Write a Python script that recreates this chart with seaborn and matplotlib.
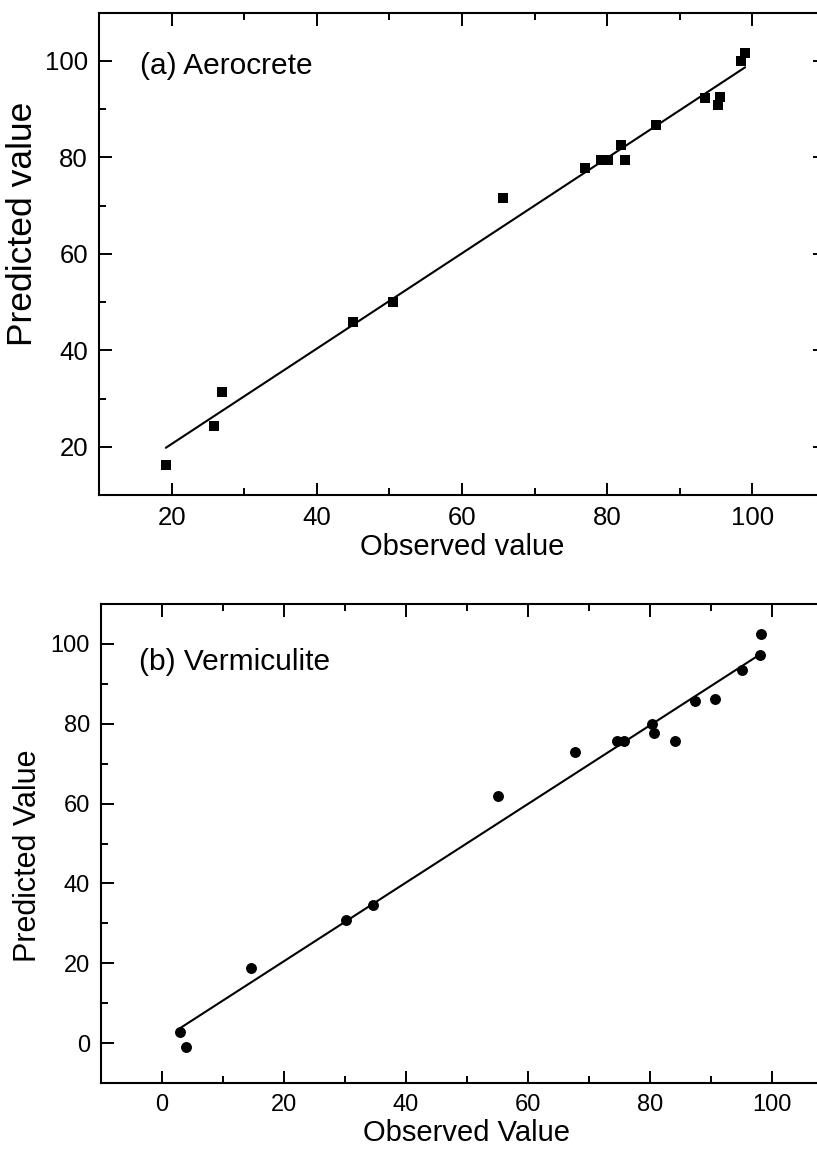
import numpy as np
import pandas as pd
import matplotlib
matplotlib.use("Agg")
import matplotlib.pyplot as plt
from matplotlib.ticker import MultipleLocator
import seaborn as sns

# Aerocrete: observed vs predicted
aero_observed = [19.2, 25.9, 27.0, 45.0, 50.5, 65.7, 77.0, 79.1, 80.1, 81.9,
                 82.5, 86.7, 93.5, 95.3, 95.5, 98.4, 99.0]
aero_predicted = [16.3, 24.3, 31.4, 45.9, 50.1, 71.6, 77.7, 79.4, 79.4, 82.6,
                  79.4, 86.8, 92.4, 90.9, 92.6, 99.9, 101.6]

# Vermiculite: observed vs predicted
verm_observed = [2.9, 4.0, 14.6, 30.1, 34.6, 55.1, 67.7, 74.6, 75.7, 80.4,
                 80.6, 84.1, 87.3, 90.6, 95.1, 98.0, 98.2]
verm_predicted = [2.9, -1.1, 18.9, 30.9, 34.5, 62.0, 73.0, 75.8, 75.8, 79.9,
                  77.8, 75.8, 85.8, 86.2, 93.4, 97.1, 102.6]

panel_titles = ["(a) Aerocrete", "(b) Vermiculite"]
x_labels = ["Observed value", "Observed Value"]
y_labels = ["Predicted value", "Predicted Value"]

aero = pd.DataFrame({"obs": aero_observed, "pred": aero_predicted})
verm = pd.DataFrame({"obs": verm_observed, "pred": verm_predicted})

sns.set_theme(style="ticks")
plt.rcParams["font.family"] = ["Liberation Sans", "DejaVu Sans"]
plt.rcParams.update({
    "axes.linewidth": 1.5,
    "axes.edgecolor": "black",
    "xtick.color": "black",
    "ytick.color": "black",
    "text.color": "black",
    "axes.labelcolor": "black",
})

W, H = 817, 1150
fig = plt.figure(figsize=(W / 100, H / 100), dpi=100)
fig.patch.set_facecolor("white")

ax1 = fig.add_axes([99 / W, 1 - 495 / H, 726 / W, (495 - 12.7) / H])
ax2 = fig.add_axes([101 / W, 1 - 1083 / H, 732 / W, (1083 - 604) / H])

sns.scatterplot(data=aero, x="obs", y="pred", marker="s", s=58, color="black",
                edgecolor="black", linewidth=0, ax=ax1, zorder=3)
sns.regplot(data=aero, x="obs", y="pred", scatter=False, ci=None, truncate=True,
            color="black", line_kws={"lw": 1.5}, ax=ax1)

sns.scatterplot(data=verm, x="obs", y="pred", marker="o", s=62, color="black",
                edgecolor="black", linewidth=0, ax=ax2, zorder=3)
sns.regplot(data=verm, x="obs", y="pred", scatter=False, ci=None, truncate=True,
            color="black", line_kws={"lw": 1.5}, ax=ax2)

ax1.set_xlim(10, 110)
ax1.set_ylim(10, 110)
ax2.set_xlim(-10, 110)
ax2.set_ylim(-10, 110)

ax1.text(15.6, 99, panel_titles[0], fontsize=21.5, va="center", ha="left")
ax2.text(-3.8, 95.4, panel_titles[1], fontsize=21.5, va="center", ha="left")

settings = [
    # axis, x label, y label, tick size, y label size, y label coords
    (ax1, x_labels[0], y_labels[0], 18.5, 25.5, (-0.083, 0.562)),
    (ax2, x_labels[1], y_labels[1], 17, 22, (-0.079, 0.474)),
]

for ax, xl, yl, tsize, ysize, ycoords in settings:
    ax.xaxis.set_major_locator(MultipleLocator(20))
    ax.xaxis.set_minor_locator(MultipleLocator(10))
    ax.yaxis.set_major_locator(MultipleLocator(20))
    ax.yaxis.set_minor_locator(MultipleLocator(10))
    ax.tick_params(which="both", direction="in", top=True, right=True,
                   width=1.4, labelsize=tsize)
    ax.tick_params(which="major", length=9, pad=8)
    ax.tick_params(which="minor", length=5)
    ax.set_xlabel(xl, fontsize=21, labelpad=2)
    ax.set_ylabel(yl, fontsize=ysize)
    ax.yaxis.set_label_coords(*ycoords)
    for sp in ax.spines.values():
        sp.set_visible(True)
        sp.set_linewidth(1.5)
    ax.set_facecolor("white")
    ax.grid(False)

fig.savefig("out.png", dpi=100, facecolor="white")
